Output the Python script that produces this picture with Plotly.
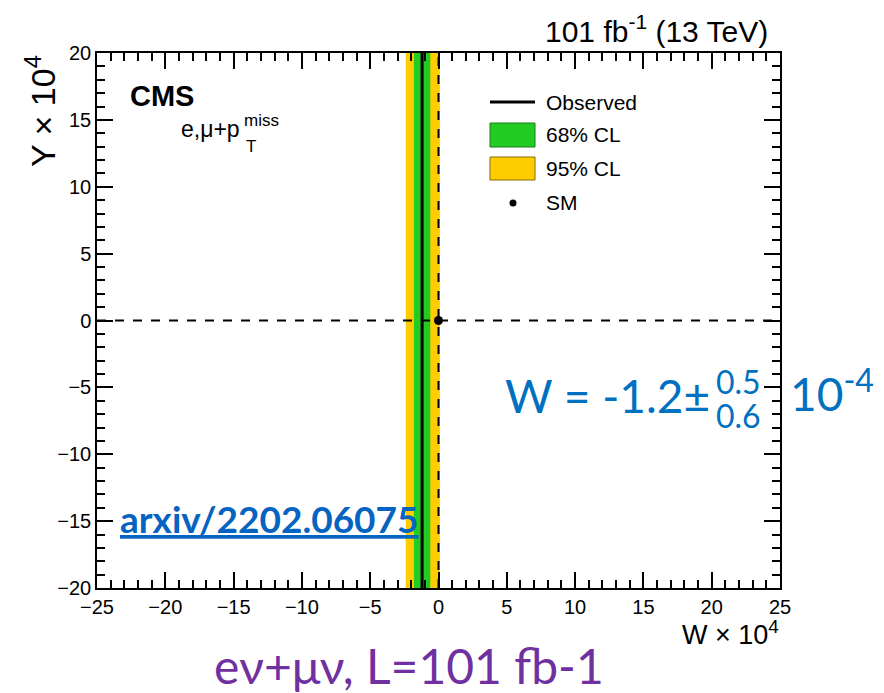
import plotly.graph_objects as go

# ---- data ----
w_observed = -1.2
cl68 = [-1.8, -0.6]
cl95 = [-2.4, 0.1]
sm_point = [0.0, 0.0]
x_range = [-25, 25]
y_range = [-20, 20]
major_ticks_x = [-25, -20, -15, -10, -5, 0, 5, 10, 15, 20, 25]
major_ticks_y = [-20, -15, -10, -5, 0, 5, 10, 15, 20]
legend_labels = ["Observed", "68% CL", "95% CL", "SM"]

YEL = "#FFCC00"
GRN = "#22CC22"
BLUE = "#0070C0"
LINK = "#0563C1"
PURP = "#7030A0"
ROOTF = "Liberation Sans, Arial, sans-serif"
OFF = "Lato, Liberation Sans, sans-serif"

fig = go.Figure()

def band(lo, hi, color, name):
    fig.add_trace(go.Scatter(
        x=[lo, hi, hi, lo, lo], y=[y_range[0], y_range[0], y_range[1], y_range[1], y_range[0]],
        fill="toself", fillcolor=color, mode="lines", line=dict(width=0, color=color),
        name=name, showlegend=False, hoverinfo="skip"))

band(cl95[0], cl95[1], YEL, legend_labels[2])
band(cl68[0], cl68[1], GRN, legend_labels[1])

fig.add_trace(go.Scatter(x=[w_observed, w_observed], y=y_range, mode="lines",
                         line=dict(color="black", width=3), name=legend_labels[0], showlegend=False))
fig.add_trace(go.Scatter(x=[sm_point[0], sm_point[0]], y=y_range, mode="lines",
                         line=dict(color="black", width=2, dash="dash"), showlegend=False))
fig.add_trace(go.Scatter(x=x_range, y=[sm_point[1], sm_point[1]], mode="lines",
                         line=dict(color="black", width=2, dash="dash"), showlegend=False))
fig.add_trace(go.Scatter(x=[sm_point[0]], y=[sm_point[1]], mode="markers",
                         marker=dict(color="black", size=9), name=legend_labels[3], showlegend=False))

axis_common = dict(
    showgrid=False, zeroline=False, showline=True, linecolor="black", linewidth=1.5,
    mirror="allticks", ticks="inside", ticklen=16, tickwidth=1.5, tickcolor="black",
    minor=dict(ticks="inside", ticklen=8, tickwidth=1.5, tickcolor="black", dtick=1),
    tickfont=dict(family=ROOTF, size=20, color="black"),
)
fig.update_xaxes(range=x_range, tickvals=major_ticks_x, **axis_common)
fig.update_yaxes(range=y_range, tickvals=major_ticks_y, **axis_common)

fig.update_layout(
    width=884, height=693,
    margin=dict(l=97, r=104, t=53, b=105),
    plot_bgcolor="white", paper_bgcolor="white",
    showlegend=False,
)

def px(xp):
    return (xp - 97) / 683.0
def py(yp):
    return (588 - yp) / 535.0

ann = []
def A(text, x, y, size, color="black", family=ROOTF, xanchor="left", yanchor="middle", angle=0):
    ann.append(dict(text=text, x=x, y=y, xref="paper", yref="paper", showarrow=False,
                    font=dict(size=size, color=color, family=family),
                    xanchor=xanchor, yanchor=yanchor, textangle=angle))

# ---- manual legend (ROOT style) ----
shapes = []
shapes.append(dict(type="line", xref="paper", yref="paper", x0=px(490), x1=px(535),
                   y0=py(102), y1=py(102), line=dict(color="black", width=3)))
shapes.append(dict(type="rect", xref="paper", yref="paper", x0=px(490), x1=px(535),
                   y0=py(147), y1=py(123), fillcolor=GRN, line=dict(color="#1a7a1a", width=1)))
shapes.append(dict(type="rect", xref="paper", yref="paper", x0=px(490), x1=px(535),
                   y0=py(180), y1=py(157), fillcolor=YEL, line=dict(color="#8a6d00", width=1)))
shapes.append(dict(type="circle", xref="paper", yref="paper", x0=px(509.5), x1=px(516.5),
                   y0=py(206.5), y1=py(199.5), fillcolor="black", line=dict(color="black", width=0)))
for lab, yy in zip(legend_labels, [102, 135, 168, 202]):
    A(lab, px(544), py(yy), 21)

A("101 fb<sup>-1</sup> (13 TeV)", px(770), py(29), 30, xanchor="right")
A("<b>CMS</b>", px(128), py(96), 29)
A("e,\u03bc+p", px(179), py(129), 23)
A("T", px(244), py(146), 17)
A("miss", px(242), py(121), 17)
A("Y \u00d7 10<sup>4</sup>", px(40), 1.0, 34, xanchor="center", yanchor="top", angle=-90)
A("W \u00d7 10<sup>4</sup>", px(781), py(633), 27, xanchor="right")

A("W = -1.2\u00b1", px(712), py(395), 46, color=BLUE, family=OFF, xanchor="right")
A("0.5", px(714), py(381), 32, color=BLUE, family=OFF)
A("0.6", px(714), py(415), 32, color=BLUE, family=OFF)
A("10<sup>-4</sup>", px(788), py(390), 46, color=BLUE, family=OFF)

A("<b><u>arxiv/2202.06075</u></b>", px(118), py(518), 37, color=LINK, family=OFF)
A("e\u03bd+\u03bc\u03bd, L=101 fb-1", px(409), py(665), 48, color=PURP, family=OFF, xanchor="center")

fig.update_layout(annotations=ann, shapes=shapes)
fig.write_html("out.html")
